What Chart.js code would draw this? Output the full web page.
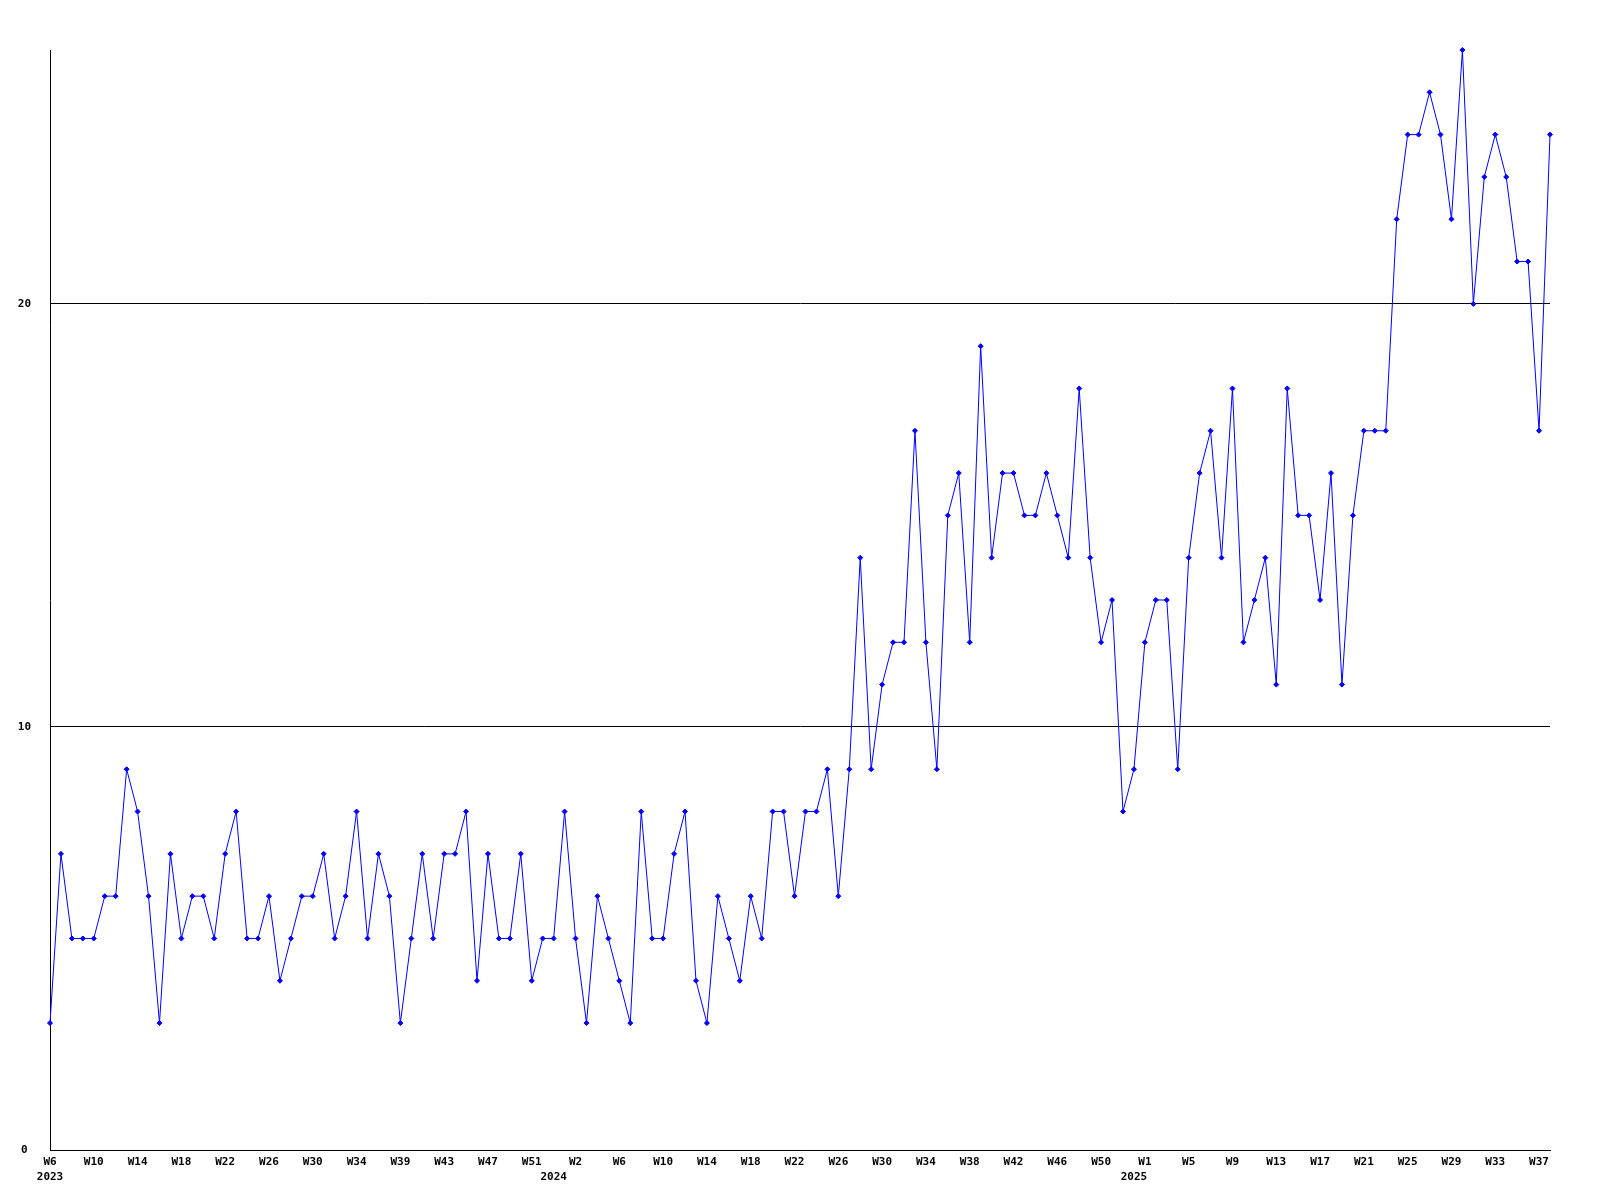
<!DOCTYPE html>
<html>
<head>
<meta charset="utf-8">
<title>Weekly count</title>
<script src="https://cdn.jsdelivr.net/npm/chart.js@4/dist/chart.umd.min.js"></script>
<style>
    body { margin: 0; background: #fff; }
    #wrap { width: 1600px; height: 1200px; }
</style>
</head>
<body>
<div id="wrap"><canvas id="weekChart" width="1600" height="1200"></canvas></div>
<script>
// --- Data (one value per week, W6 2023 .. W38 2025) ---
const weeklyValues = [
    3, 7, 5, 5, 5, 6, 6, 9, 8, 6,
    3, 7, 5, 6, 6, 5, 7, 8, 5, 5,
    6, 4, 5, 6, 6, 7, 5, 6, 8, 5,
    7, 6, 3, 5, 7, 5, 7, 7, 8, 4,
    7, 5, 5, 7, 4, 5, 5, 8, 5, 3,
    6, 5, 4, 3, 8, 5, 5, 7, 8, 4,
    3, 6, 5, 4, 6, 5, 8, 8, 6, 8,
    8, 9, 6, 9, 14, 9, 11, 12, 12, 17,
    12, 9, 15, 16, 12, 19, 14, 16, 16, 15,
    15, 16, 15, 14, 18, 14, 12, 13, 8, 9,
    12, 13, 13, 9, 14, 16, 17, 14, 18, 12,
    13, 14, 11, 18, 15, 15, 13, 16, 11, 15,
    17, 17, 17, 22, 24, 24, 25, 24, 22, 26,
    20, 23, 24, 23, 21, 21, 17, 24
];

// week tick labels, one for every 4th point
const weekTicks = [
    'W6', 'W10', 'W14', 'W18', 'W22', 'W26', 'W30', 'W34', 'W39', 'W43', 'W47', 'W51',
    'W2', 'W6', 'W10', 'W14', 'W18', 'W22', 'W26', 'W30', 'W34', 'W38', 'W42', 'W46', 'W50',
    'W1', 'W5', 'W9', 'W13', 'W17', 'W21', 'W25', 'W29', 'W33', 'W37'
];

// year labels and the week index where each one sits
const yearNames = ['2023', '2024', '2025'];
const yearStart = [0, 46, 99];

const yTicks = [0, 10, 20];

// --- Chart ---
const categories = weeklyValues.map((v, i) => i);
const tickFont = { family: 'DejaVu Sans Mono', size: 11, weight: 'bold', lineHeight: 1.36 };

const tickLabel = (i) => {
    const week = i % 4 === 0 ? (weekTicks[i / 4] || '') : '';
    const y = yearStart.indexOf(i);
    if (y >= 0) return [week, yearNames[y]];
    return week;
};

new Chart(document.getElementById('weekChart'), {
    type: 'line',
    data: {
        labels: categories,
        datasets: [{
            data: weeklyValues,
            borderColor: '#0000ff',
            backgroundColor: '#0000ff',
            borderWidth: 1,
            tension: 0,
            pointStyle: 'rectRot',
            pointRadius: 2.5,
            pointBorderWidth: 1,
            clip: false
        }]
    },
    options: {
        responsive: false,
        animation: false,
        events: [],
        layout: { padding: { top: 50, right: 50, left: 0, bottom: 0 } },
        plugins: {
            legend: { display: false },
            tooltip: { enabled: false }
        },
        scales: {
            x: {
                type: 'category',
                offset: false,
                afterFit: (s) => { s.height = 50; },
                grid: { display: false, drawTicks: false },
                border: { display: true, color: '#000', width: 1 },
                ticks: {
                    autoSkip: false,
                    maxRotation: 0,
                    minRotation: 0,
                    padding: 5,
                    color: '#000',
                    font: tickFont,
                    callback: (val, i) => tickLabel(i)
                }
            },
            y: {
                min: 0,
                max: 26,
                afterFit: (s) => { s.width = 50; },
                afterBuildTicks: (s) => { s.ticks = yTicks.map(v => ({ value: v })); },
                grid: { color: '#000', lineWidth: 1, drawTicks: false },
                border: { display: true, color: '#000', width: 1 },
                ticks: {
                    crossAlign: 'center',
                    padding: 19,
                    color: '#000',
                    font: tickFont
                }
            }
        }
    }
});
</script>
</body>
</html>
